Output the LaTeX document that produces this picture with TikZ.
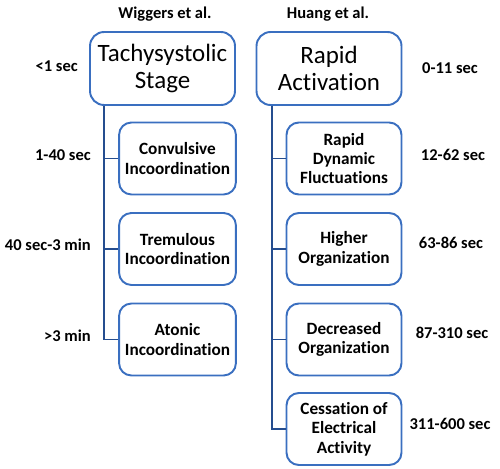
\documentclass[tikz,border=0pt]{standalone}
\usepackage{fontspec}
\setmainfont{Carlito}[Ligatures={NoCommon}]
\definecolor{boxblue}{HTML}{3A6FC0}
\definecolor{linkblue}{HTML}{254D8F}
\begin{document}
\begin{tikzpicture}[x=0.02cm,y=-0.02cm,
    stage/.style={draw=boxblue,line width=1.1pt,rounded corners=8pt,align=center,
        minimum width=2.9cm,minimum height=1.46cm,font=\fontsize{14.2}{15}\selectfont},
    phase/.style={draw=boxblue,line width=1.1pt,rounded corners=7pt,align=center,
        minimum width=2.3cm,minimum height=1.44cm,font=\fontsize{9.8}{11}\selectfont\bfseries},
    timing/.style={font=\fontsize{9.4}{10}\selectfont\bfseries},
    link/.style={draw=linkblue,line width=1.1pt}]
\useasboundingbox (0,0) rectangle (500,469);

% Wiggers et al.
\node[timing] (wtitle) at (165,14) {Wiggers et al.};
\node[stage] (tach) at (162.5,68.5) {Tachysystolic\\Stage};
\node[phase] (conv) at (177.5,158.5) {Convulsive\\Incoordination};
\node[phase] (trem) at (177.5,249) {Tremulous\\Incoordination};
\node[phase] (aton) at (177.5,339.5) {Atonic\\Incoordination};
\foreach \n in {conv,trem,aton}{
    \draw[link] ([xshift=0.3cm]tach.south west) |- (\n.west);
}
\node[timing,anchor=east] (wt1) at (84,66) {<1 sec};
\node[timing,anchor=east] (wt2) at (97,155) {1-40 sec};
\node[timing,anchor=east] (wt3) at (97,245) {40 sec-3 min};
\node[timing,anchor=east] (wt4) at (97,336) {>3 min};

% Huang et al.
\node[timing] (htitle) at (328,14) {Huang et al.};
\node[stage] (rapid) at (329,68.5) {Rapid\\Activation};
\node[phase] (fluct) at (344,158.5) {Rapid\\Dynamic\\Fluctuations};
\node[phase] (higher) at (344,249) {Higher\\Organization};
\node[phase] (decr) at (344,339.5) {Decreased\\Organization};
\node[phase] (cess) at (344,429) {Cessation of\\Electrical\\Activity};
\foreach \n in {fluct,higher,decr,cess}{
    \draw[link] ([xshift=0.32cm]rapid.south west) |- (\n.west);
}
\node[timing] (ht1) at (450,68) {0-11 sec};
\node[timing] (ht2) at (453,155) {12-62 sec};
\node[timing] (ht3) at (451,243) {63-86 sec};
\node[timing] (ht4) at (452,333) {87-310 sec};
\node[timing] (ht5) at (450,424) {311-600 sec};
\end{tikzpicture}
\end{document}
